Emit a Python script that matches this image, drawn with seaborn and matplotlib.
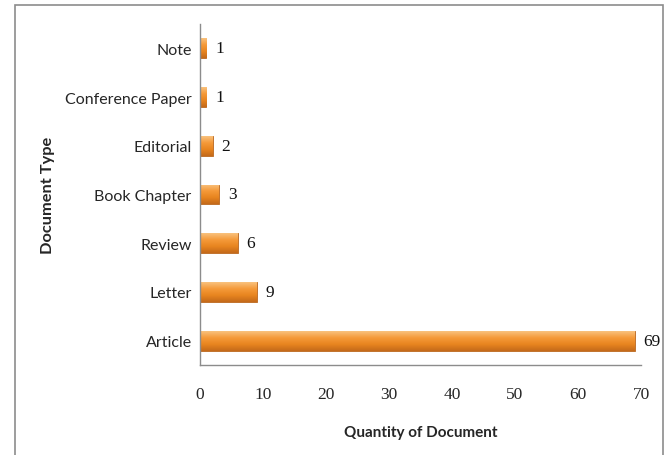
import numpy as np
import pandas as pd
import matplotlib
matplotlib.use("Agg")
import matplotlib.pyplot as plt
import seaborn as sns
from matplotlib.colors import LinearSegmentedColormap
from matplotlib.patches import Rectangle

categories = ["Note", "Conference Paper", "Editorial", "Book Chapter", "Review", "Letter", "Article"]
values = [1, 1, 2, 3, 6, 9, 69]
xticks = [0, 10, 20, 30, 40, 50, 60, 70]

sns.set_style("white")
plt.rcParams['font.family'] = ['Lato', 'DejaVu Sans']

df = pd.DataFrame({"type": categories, "count": values})

fig = plt.figure(figsize=(6.68, 4.56), dpi=100)
fig.patches.append(Rectangle((15/668, -0.01), (663-15)/668, 1.01 - 6/456, transform=fig.transFigure,
                             fill=False, edgecolor="#8c8c8c", linewidth=1.2))
ax = fig.add_axes([200/668, 1 - 366/456, (641-200)/668, (366-25)/456])

sns.barplot(data=df, x="count", y="type", order=categories, color="#F0922E",
            width=0.41, ax=ax, saturation=1, edgecolor="#B8651E", linewidth=0.6)

cmap = LinearSegmentedColormap.from_list("og", ["#F9C27E", "#F59A3A", "#E8851F", "#C46A1A"])
grad = np.linspace(0, 1, 100).reshape(-1, 1)
for p in ax.patches:
    x0, y0 = p.get_x(), p.get_y()
    w, h = p.get_width(), p.get_height()
    im = ax.imshow(grad, cmap=cmap, aspect="auto", extent=[x0, x0 + w, y0 + h, y0],
                   origin="upper", zorder=p.get_zorder() + 0.1)
    im.set_clip_path(p)
    ax.text(x0 + w + 1.4, y0 + h / 2, str(int(w)), va="center", ha="left",
            fontsize=12.5, family="Liberation Serif", color="#111111")

ax.set_xlim(0, 70)
ax.set_ylim(len(categories) - 0.5, -0.5)
ax.set_xticks(xticks)
ax.set_xticklabels([str(t) for t in xticks], family="Liberation Serif", fontsize=12.5)
ax.set_yticks(range(len(categories)))
ax.set_yticklabels(categories, fontsize=11.5)
ax.set_yticks(np.arange(-0.5, len(categories), 1), minor=True)
ax.tick_params(axis="y", which="major", length=0, pad=6)
ax.tick_params(axis="y", which="minor", length=5, color="#8c8c8c", direction="out")
ax.tick_params(axis="x", which="major", length=5, color="#8c8c8c", direction="out", pad=10)
for s in ["top", "right"]:
    ax.spines[s].set_visible(False)
for s in ["left", "bottom"]:
    ax.spines[s].set_color("#8c8c8c")
    ax.spines[s].set_linewidth(1.0)

ax.set_xlabel("Quantity of Document", fontsize=11, fontweight="bold", labelpad=17)
ax.set_ylabel("")
fig.text(48/668, 1 - 195/456, "Document Type", rotation=90, ha="center", va="center",
         fontsize=11.8, fontweight="bold")

fig.savefig("out.png", dpi=100)
